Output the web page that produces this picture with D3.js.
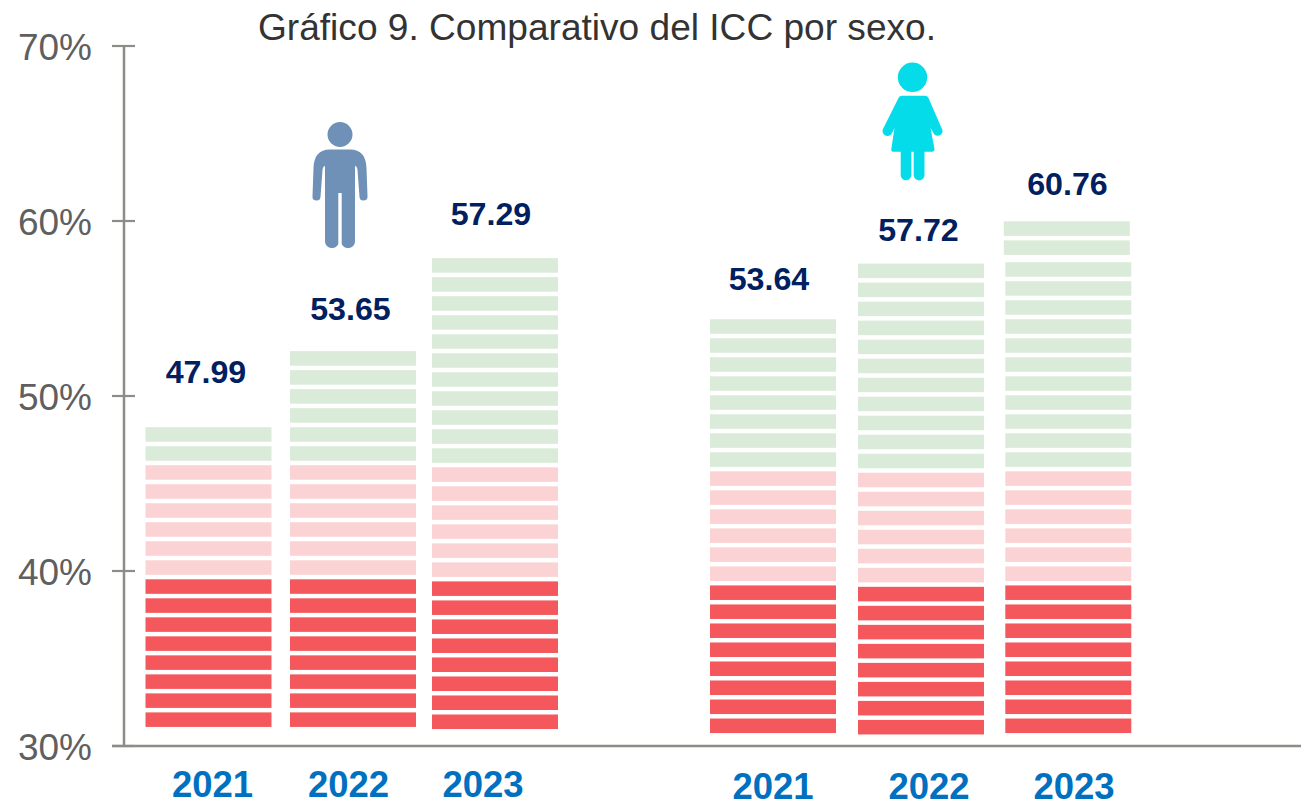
<!DOCTYPE html>
<html><head><meta charset="utf-8">
<script src="https://cdn.jsdelivr.net/npm/d3@7"></script>
<style>html,body{margin:0;padding:0;background:#fff}svg{display:block}text{font-family:"Liberation Sans",Arial,sans-serif}</style>
</head><body><svg id="c" width="1301" height="803"></svg>
<script>
const titleText = "Gráfico 9. Comparativo del ICC por sexo.";
const yTicks = [30,40,50,60,70];
const years = ["2021","2022","2023","2021","2022","2023"];
const values = ["47.99","53.65","57.29","53.64","57.72","60.76"];
// bottom of lowest strip, as axis value
const bases = [31.09,31.09,30.97,30.74,30.66,30.74];
const redCounts = [8,8,8,8,8,8];
const pinkCounts = [6,6,6,6,6,6];
const greenCounts = [2,6,11,8,11,13];
const stripStep = 1.0865;   // value per strip
const stripHeight = 0.83;
const barLeft = [145.5,290,432,710,858,1005.3];
const barWidth = 126;
const svg=d3.select("#c");
const y=d3.scaleLinear().domain([30,70]).range([746,46]);
const axisColor="#8c8c88";
// axes
svg.append("line").attr("x1",124).attr("x2",124).attr("y1",y(70)).attr("y2",y(30)).attr("stroke",axisColor).attr("stroke-width",2.5);
svg.append("line").attr("x1",112).attr("x2",1301).attr("y1",y(30)).attr("y2",y(30)).attr("stroke",axisColor).attr("stroke-width",2.5);
svg.selectAll(".tk").data(yTicks).join("line").attr("x1",112).attr("x2",135).attr("y1",d=>y(d)).attr("y2",d=>y(d)).attr("stroke",axisColor).attr("stroke-width",2.2);
svg.selectAll(".tl").data(yTicks).join("text").attr("x",92).attr("y",d=>y(d)+14).attr("text-anchor","end").attr("font-size",37).attr("fill","#5f5f5f").text(d=>d+"%");
// strips
const colors={red:"#f4585c",pink:"#fbd3d4",green:"#daebd9"};
years.forEach((yr,i)=>{
  const seq=[...Array(redCounts[i]).fill("red"),...Array(pinkCounts[i]).fill("pink"),...Array(greenCounts[i]).fill("green")];
  const n=seq.length;
  // the last bar's two top strips sit slightly up and to the left in the reference
  const shifted=k=>i===5&&k>=n-2;
  svg.append("g").selectAll("rect").data(seq).join("rect")
    .attr("x",(d,k)=>barLeft[i]-(shifted(k)?1.5:0)).attr("width",barWidth)
    .attr("y",(d,k)=>y(bases[i]+k*stripStep+stripHeight)-(shifted(k)?2.8:0))
    .attr("height",y(0)-y(stripHeight))
    .attr("fill",d=>colors[d]);
});
// labels
const labelX=[206,350.5,491,769,918.5,1067.5], labelY=[383.3,319.5,225.3,290.3,241.3,195.3];
const yearX=[212.5,348.5,483,773,929,1074], yearY=[797,797,797,799,799,799];
values.forEach((v,i)=>{
  svg.append("text").attr("x",labelX[i]).attr("y",labelY[i]).attr("text-anchor","middle").attr("font-size",32.2).attr("font-weight","bold").attr("fill","#002060").text(v);
  svg.append("text").attr("x",yearX[i]).attr("y",yearY[i]).attr("text-anchor","middle").attr("font-size",36.5).attr("font-weight","bold").attr("fill","#0070c0").text(years[i]);
});
svg.append("text").attr("x",258).attr("y",40).attr("font-size",37.1).attr("fill","#333").text(titleText);
// icons
const man=svg.append("g").attr("fill","#7091b7");
man.append("circle").attr("cx",340).attr("cy",134.5).attr("r",12.5);
man.append("path").attr("d","M330 149.5 H350 C361 149.5 366 156 366.5 168 L367.5 196 A4 4 0 0 1 359.5 197 L357.5 170 Q357 166 355 166 V242 A7 7 0 0 1 341.7 244 V193 H338.3 V244 A7 7 0 0 1 325 242 V166 Q323 166 322.5 170 L320.5 197 A4 4 0 0 1 312.5 196 L313.5 168 C314 156 319 149.5 330 149.5 Z");
const wom=svg.append("g").attr("fill","#05dcea");
wom.append("circle").attr("cx",912.5).attr("cy",77.3).attr("r",14.7);
wom.append("path").attr("d","M902 95.7 H925 Q927.5 95.7 928.5 98 L941.5 128 A4.5 4.5 0 0 1 934 134 L930.5 128 L934.5 149 Q934.5 151.7 932 151.7 H924.5 V175 A5.3 5.3 0 0 1 913.7 175 V151.7 H911.3 V175 A5.3 5.3 0 0 1 900.7 175 V151.7 H893 Q891 151.7 891.3 149 L894.5 128 L891.5 134 A4.5 4.5 0 0 1 883.5 128 L898.5 98 Q899.5 95.7 902 95.7 Z");
</script></body></html>
